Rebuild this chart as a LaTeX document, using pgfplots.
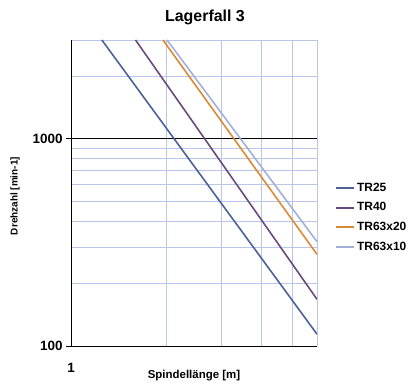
\documentclass[border=0pt]{standalone}
\usepackage{fontspec}
\setmainfont{Liberation Sans}
\usepackage{pgfplots}
\pgfplotsset{compat=1.18}
\definecolor{cTRa}{HTML}{4A6298}
\definecolor{cTRb}{HTML}{6A4A7E}
\definecolor{cTRc}{HTML}{DA8A34}
\definecolor{cTRd}{HTML}{A2B0D8}
\definecolor{gridc}{HTML}{BAC6E6}
\begin{document}
\begin{tikzpicture}[x=1bp,y=1bp]
\path[use as bounding box] (0,0) rectangle (409,383);
\node[font=\bfseries\fontsize{16}{18}\selectfont] at (205,366) {Lagerfall 3};
\node[font=\bfseries\fontsize{11.5}{13}\selectfont] at (194,7) {Spindellänge [m]};
\node[font=\bfseries\fontsize{10}{12}\selectfont, rotate=90] at (15,187) {Drehzahl [min-1]};
\begin{axis}[
  at={(71bp,37bp)}, anchor=south west,
  scale only axis, width=246bp, height=306bp,
  xmode=log, ymode=log,
  xmin=1, xmax=6, ymin=100, ymax=3000,
  axis lines=left, axis line style={-, black, line width=0.8pt},
  xtick={1}, ytick={100,1000},
  minor xtick={2,3,4,5,6}, minor ytick={200,300,400,500,600,700,800,900,2000,3000},
  xminorgrids, yminorgrids, ymajorgrids,
  minor grid style={gridc, line width=0.9pt},
  major grid style={black, line width=0.8pt},
  log ticks with fixed point,
  /pgf/number format/1000 sep={},
  /pgf/number format/assume math mode=true,
  ticklabel style={font=\bfseries\fontsize{13.5}{15}\selectfont},
  xticklabel style={yshift=-9bp},
  xtick style={draw=none},
  ytick style={black, line width=0.8pt},
  tick align=outside, major tick length=5bp, minor tick length=0pt,
  legend style={at={(1.073,0.42)}, anchor=west, draw=none, fill=none,
    font=\bfseries\fontsize{12}{14}\selectfont, row sep=6bp,
    inner sep=0pt, nodes={inner xsep=2bp}},
  legend cell align=left,
  legend image code/.code={\draw[#1, line width=2pt] (0bp,0bp) -- (18bp,0bp);},
  clip=true,
]
\addplot[cTRa, line width=1.6pt] coordinates {(1.252,3000) (6,114)};
\addlegendentry{TR25}
\addplot[cTRb, line width=1.6pt] coordinates {(1.60,3000) (6,168)};
\addlegendentry{TR40}
\addplot[cTRc, line width=1.6pt] coordinates {(1.954,3000) (6,277)};
\addlegendentry{TR63x20}
\addplot[cTRd, line width=1.6pt] coordinates {(2.013,3000) (6,319)};
\addlegendentry{TR63x10}
\end{axis}
\end{tikzpicture}
\end{document}
